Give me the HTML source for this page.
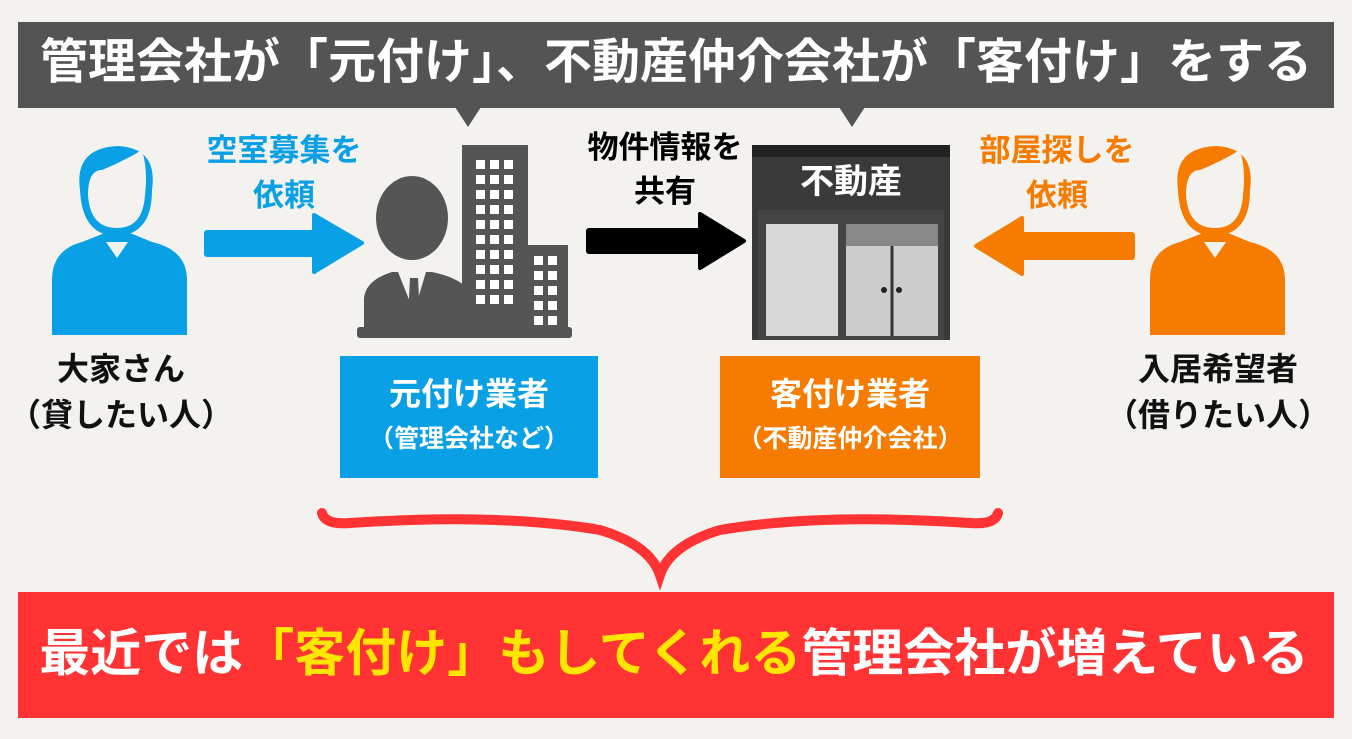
<!DOCTYPE html>
<html><head><meta charset="utf-8"><style>
body{margin:0;width:1352px;height:739px;background:#f3f2ee;position:relative;overflow:hidden;font-family:"Liberation Sans","Noto Sans CJK JP",sans-serif;font-weight:bold}
.a{position:absolute}
.t{position:absolute;text-align:center;white-space:nowrap;transform:translateX(-50%)}
.g i{display:block;height:9px;background:#fff}
</style></head><body>
<div class="a" style="left:18px;top:22px;width:1316px;height:86px;background:#545454"></div>
<svg class="a" style="left:0;top:0" width="1352" height="739">
<defs>
<g id="p">
<path d="M0,335 L0,280 Q0,250 30,242 L53,233 L78,233 L100,242 Q135,250 135,280 L135,335Z"/>
<path d="M28,190 Q22,148 66,146 Q106,148 100,190 Q100,235 64,236 Q30,235 28,190Z"/>
</g>
</defs>
<polygon points="455,107 481,107 468,127" fill="#545454"/>
<polygon points="839,107 865,107 852,127" fill="#545454"/>
<g fill="#0aa0e6"><use href="#p" x="52"/></g>
<g fill="#f57c00"><use href="#p" x="1150"/></g>
<g fill="#f3f2ee">
<path d="M88,195 Q88,170 102,170 Q122,162 142,150 Q148,170 145,195 Q143,228 117,228 Q90,228 88,195Z"/>
<polygon points="106,242 128,242 117,258"/>
<path d="M1186,195 Q1186,170 1200,170 Q1220,162 1240,150 Q1246,170 1243,195 Q1241,228 1215,228 Q1188,228 1186,195Z"/>
<polygon points="1204,242 1226,242 1215,258"/>
</g>
<rect x="204" y="230" width="116" height="27" rx="3" fill="#0aa0e6"/>
<polygon points="314,215 362,243 314,272" fill="#0aa0e6" stroke="#0aa0e6" stroke-width="4" stroke-linejoin="round"/>
<rect x="586" y="228" width="116" height="26" rx="3" fill="#000"/>
<polygon points="700,214 744,241 700,268" fill="#000" stroke="#000" stroke-width="4" stroke-linejoin="round"/>
<rect x="1018" y="232" width="117" height="28" rx="3" fill="#f57c00"/>
<polygon points="1022,218 976,246 1022,274" fill="#f57c00" stroke="#f57c00" stroke-width="4" stroke-linejoin="round"/>
<g fill="#555">
<rect x="462" y="145" width="66" height="190"/>
<rect x="524" y="245" width="44" height="88"/>
<rect x="357" y="327" width="215" height="11" rx="3"/>
<ellipse cx="412" cy="218" rx="36" ry="42"/>
<path d="M364,330 L364,298 Q366,280 392,272 L432,272 Q470,280 472,300 L472,330Z"/>
</g>
<polygon points="398,272 426,272 414,312" fill="#f3f2ee"/>
<polygon points="410,278 418,278 420,318 414,324 408,318" fill="#555"/>
<rect x="752" y="145" width="198" height="195" fill="#3a3a3a"/>
<rect x="752" y="145" width="198" height="12" fill="#222"/>
<rect x="758" y="210" width="186" height="130" fill="#444"/>
<rect x="766" y="224" width="72" height="112" fill="#d8d8d8"/>
<rect x="846" y="224" width="92" height="112" fill="#ccc"/>
<rect x="846" y="224" width="92" height="22" fill="#888"/>
<line x1="892" y1="246" x2="892" y2="336" stroke="#333" stroke-width="3"/>
<circle cx="884" cy="290" r="3" fill="#222"/><circle cx="899" cy="290" r="3" fill="#222"/>
<path d="M322,513 Q325,525 350,523 Q500,513 600,530 Q650,545 660,575 Q670,545 720,530 Q820,513 970,523 Q995,525 998,513" fill="none" stroke="#ff3333" stroke-width="10" stroke-linecap="round"/>
</svg>
<div class="a g" style="left:476px;top:160px;display:grid;grid-template-columns:repeat(3,9px);gap:6px 5px">
<i></i><i></i><i></i><i></i><i></i><i></i><i></i><i></i><i></i><i></i><i></i><i></i><i></i><i></i><i></i><i></i><i></i><i></i><i></i><i></i><i></i><i></i><i></i><i></i><i></i><i></i><i></i><i></i><i></i><i></i>
</div>
<div class="a g" style="left:534px;top:256px;display:grid;grid-template-columns:repeat(2,9px);gap:6px 5px">
<i></i><i></i><i></i><i></i><i></i><i></i><i></i><i></i><i></i><i></i>
</div>
<div class="t" style="left:676px;top:28px;font-size:48px;color:#fff;line-height:70px">管理会社が「元付け」、不動産仲介会社が「客付け」をする</div>
<div class="t" style="left:851px;top:160px;font-size:34px;color:#fff;line-height:44px">不動産</div>
<div class="t" style="left:284px;top:128px;font-size:31px;color:#0aa0e6;line-height:45px">空室募集を<br>依頼</div>
<div class="t" style="left:665px;top:126px;font-size:31px;color:#000;line-height:44px">物件情報を<br>共有</div>
<div class="t" style="left:1057px;top:128px;font-size:31px;color:#f57c00;line-height:45px">部屋探しを<br>依頼</div>
<div class="t" style="left:121px;top:346px;font-size:32px;color:#111;line-height:46px">大家さん<br>（貸したい人）</div>
<div class="t" style="left:1218px;top:346px;font-size:32px;color:#111;line-height:46px">入居希望者<br>（借りたい人）</div>
<div class="a" style="left:340px;top:356px;width:258px;height:122px;background:#0aa0e6"></div>
<div class="t" style="left:469px;top:372px;font-size:32px;color:#fff;line-height:44px">元付け業者</div>
<div class="t" style="left:469px;top:421px;font-size:25px;color:#fff;line-height:36px">（管理会社など）</div>
<div class="a" style="left:720px;top:356px;width:260px;height:122px;background:#f57c00"></div>
<div class="t" style="left:850px;top:372px;font-size:32px;color:#fff;line-height:44px">客付け業者</div>
<div class="t" style="left:850px;top:421px;font-size:25px;color:#fff;line-height:36px">（不動産仲介会社）</div>
<div class="a" style="left:18px;top:592px;width:1316px;height:126px;background:#ff3333"></div>
<div class="t" style="left:674px;top:618px;font-size:51px;color:#fff;line-height:72px">最近では<span style="color:#ffe600">「客付け」もしてくれる</span>管理会社が増えている</div>
</body></html>
